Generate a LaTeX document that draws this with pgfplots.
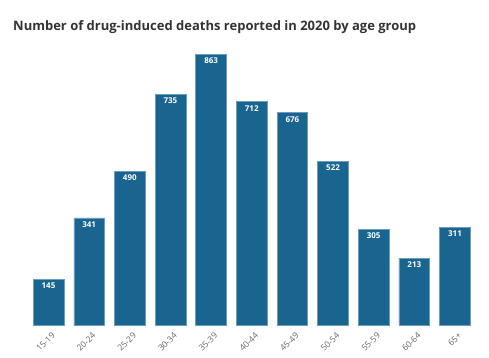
\documentclass[border=0pt]{standalone}
\usepackage{pgfplots}
\pgfplotsset{compat=1.18}
\usepackage{fontspec}
\setmainfont{Open Sans}
\definecolor{barfill}{HTML}{1A6590}
\definecolor{barline}{HTML}{6A9CC0}
\definecolor{titlec}{HTML}{333333}
\definecolor{tickc}{HTML}{666666}
\begin{document}
\begin{tikzpicture}[x=1pt,y=1pt]
\path[use as bounding box] (0,0) rectangle (489,358);
\node[anchor=base west, font=\bfseries\fontsize{13}{15}\selectfont, text=titlec, inner sep=0pt] at (13,358-30.5) {Number of drug-induced deaths reported in 2020 by age group};
\begin{axis}[
  at={(28.2pt,33pt)}, anchor=south west,
  scale only axis,
  width=447.1pt, height=282.6pt,
  xmin=-0.5, xmax=10.5, ymin=0, ymax=900,
  axis x line=bottom, hide y axis,
  x axis line style={draw=none},
  major tick length=0pt,
  xtick style={draw=none},
  /pgf/number format/assume math mode=true,
  ybar, bar width=30.7pt, bar shift=0pt,
  xtick=data,
  xticklabels={15-19,20-24,25-29,30-34,35-39,40-44,45-49,50-54,55-59,60-64,65+},
  xticklabel style={xshift=5pt, yshift=-9pt, rotate=45, anchor=east, font=\fontsize{8.5}{9}\selectfont, text=tickc, inner sep=0pt},
  ytick=\empty,
  clip=false,
  nodes near coords,
  every node near coord/.append style={anchor=north, font=\bfseries\fontsize{8}{9}\selectfont, text=white, inner sep=1pt, yshift=-2.5pt},
]
\addplot[fill=barfill, draw=barline, line width=0.6pt] coordinates {
(0,145) (1,341) (2,490) (3,735) (4,863) (5,712) (6,676) (7,522) (8,305) (9,213) (10,311)};
\end{axis}
\end{tikzpicture}
\end{document}
